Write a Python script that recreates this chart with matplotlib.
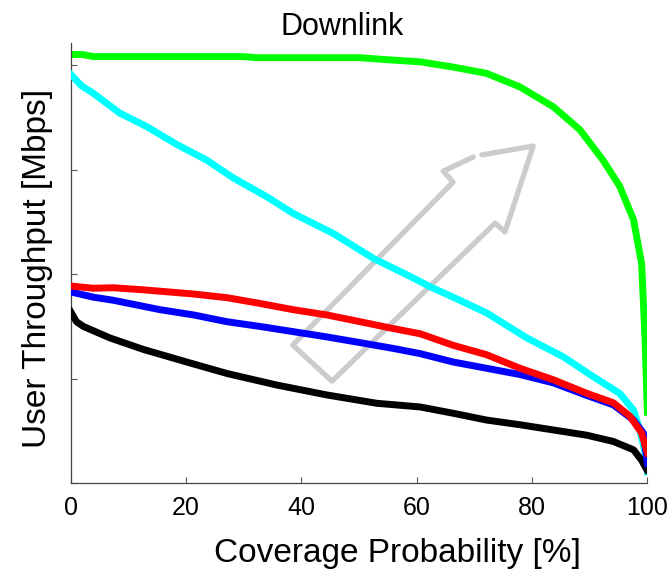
import matplotlib
matplotlib.use("Agg")
import matplotlib.pyplot as plt
from matplotlib.patches import Polygon

plt.rcParams['font.family'] = ['Liberation Sans', 'DejaVu Sans']

# coverage probability [%] and throughput (arbitrary units, no y labels in original)
green_x = [0, 2, 4, 30, 32, 50, 55, 60.6, 66.3, 72.1, 77.9, 83.7, 88.3, 92.3, 95.2, 97.6, 99.0, 99.6, 100]
green_y = [4.10, 4.10, 4.08, 4.08, 4.07, 4.07, 4.05, 4.03, 3.98, 3.92, 3.79, 3.60, 3.38, 3.09, 2.84, 2.52, 2.10, 1.37, 0.68]

cyan_x = [0, 1.9, 3.9, 8.5, 13.2, 18.4, 23.6, 28.2, 34.0, 38.6, 45.5, 52.5, 58.8, 62.3,
          66.3, 72.1, 79.1, 85.4, 90.6, 95.2, 97.6, 98.7, 99.6, 100]
cyan_y = [3.91, 3.80, 3.73, 3.54, 3.41, 3.24, 3.09, 2.92, 2.74, 2.58, 2.39, 2.15, 1.98, 1.88,
          1.78, 1.63, 1.39, 1.21, 1.02, 0.86, 0.70, 0.51, 0.29, 0.11]

red_x = [0, 3.9, 7.4, 12.6, 21.3, 27.1, 32.8, 38.6, 44.4, 50.2, 55.9, 60.6,
         66.3, 72.1, 77.9, 83.7, 89.5, 94.1, 97.0, 99.0, 100]
red_y = [1.887, 1.865, 1.87, 1.85, 1.81, 1.775, 1.72, 1.66, 1.61, 1.545, 1.48, 1.43,
         1.32, 1.23, 1.10, 0.99, 0.86, 0.77, 0.64, 0.48, 0.29]

blue_x = [0, 3.9, 7.4, 15.5, 21.3, 27.1, 32.8, 38.6, 44.4, 50.2, 55.9, 60.6,
          66.3, 72.1, 77.9, 83.7, 89.5, 94.1, 97.6, 99.3, 100]
blue_y = [1.83, 1.78, 1.75, 1.66, 1.61, 1.545, 1.50, 1.45, 1.40, 1.345, 1.29, 1.24,
          1.16, 1.10, 1.04, 0.96, 0.84, 0.75, 0.605, 0.48, 0.19]

black_x = [0, 1.0, 2.2, 6.8, 12.6, 20.1, 27.1, 35.7, 44.4, 53.1, 60.6,
           66.3, 72.1, 77.9, 83.7, 89.5, 94.1, 97.6, 99.0, 99.9]
black_y = [1.64, 1.545, 1.50, 1.39, 1.28, 1.16, 1.05, 0.94, 0.845, 0.765, 0.73,
           0.67, 0.605, 0.56, 0.51, 0.46, 0.40, 0.32, 0.22, 0.13]

x_ticks = [0, 20, 40, 60, 80, 100]
y_ticks = [0, 1, 2, 3, 4]

fig = plt.figure(figsize=(6.69, 5.69), dpi=100)
ax = fig.add_axes([0.1057, 0.1506, 0.862, 0.7738])

# hollow grey arrow (axes fraction), drawn under the curves
arrow_pts = [(0.713, 0.746), (0.802, 0.766), (0.753, 0.571), (0.736, 0.591),
             (0.453, 0.232), (0.385, 0.314), (0.663, 0.684), (0.646, 0.709), (0.698, 0.741)]
ax.add_patch(Polygon(arrow_pts, closed=False, fill=False, edgecolor='#cccccc',
                     linewidth=3.8, joinstyle='round', capstyle='round',
                     transform=ax.transAxes, zorder=1))

lw = 5
ax.plot(green_x, green_y, color='#00ff00', lw=lw, zorder=2)
ax.plot(cyan_x, cyan_y, color='#00ffff', lw=lw, zorder=3)
ax.plot(black_x, black_y, color='black', lw=lw, zorder=4)
ax.plot(blue_x, blue_y, color='#0000ff', lw=lw, zorder=5)
ax.plot(red_x, red_y, color='#ff0000', lw=lw, zorder=6)

ax.set_xlim(0, 100)
ax.set_ylim(0, 4.21)
ax.set_xticks(x_ticks)
ax.set_yticks(y_ticks)
ax.set_yticklabels([])
ax.tick_params(direction='in', length=4, width=0.8, color='#555555', labelsize=18, pad=9)

for s in ['top', 'right']:
    ax.spines[s].set_visible(False)
for s in ['left', 'bottom']:
    ax.spines[s].set_color('#444444')
    ax.spines[s].set_linewidth(0.9)

ax.set_title('Downlink', fontsize=22, pad=6)
ax.title.set_x(0.471)
ax.set_xlabel('Coverage Probability [%]', fontsize=24, labelpad=13)
ax.xaxis.label.set_x(0.566)
ax.set_ylabel('User Throughput [Mbps]', fontsize=24, labelpad=4)
ax.yaxis.label.set_y(0.489)

fig.savefig('out.png', dpi=100)
